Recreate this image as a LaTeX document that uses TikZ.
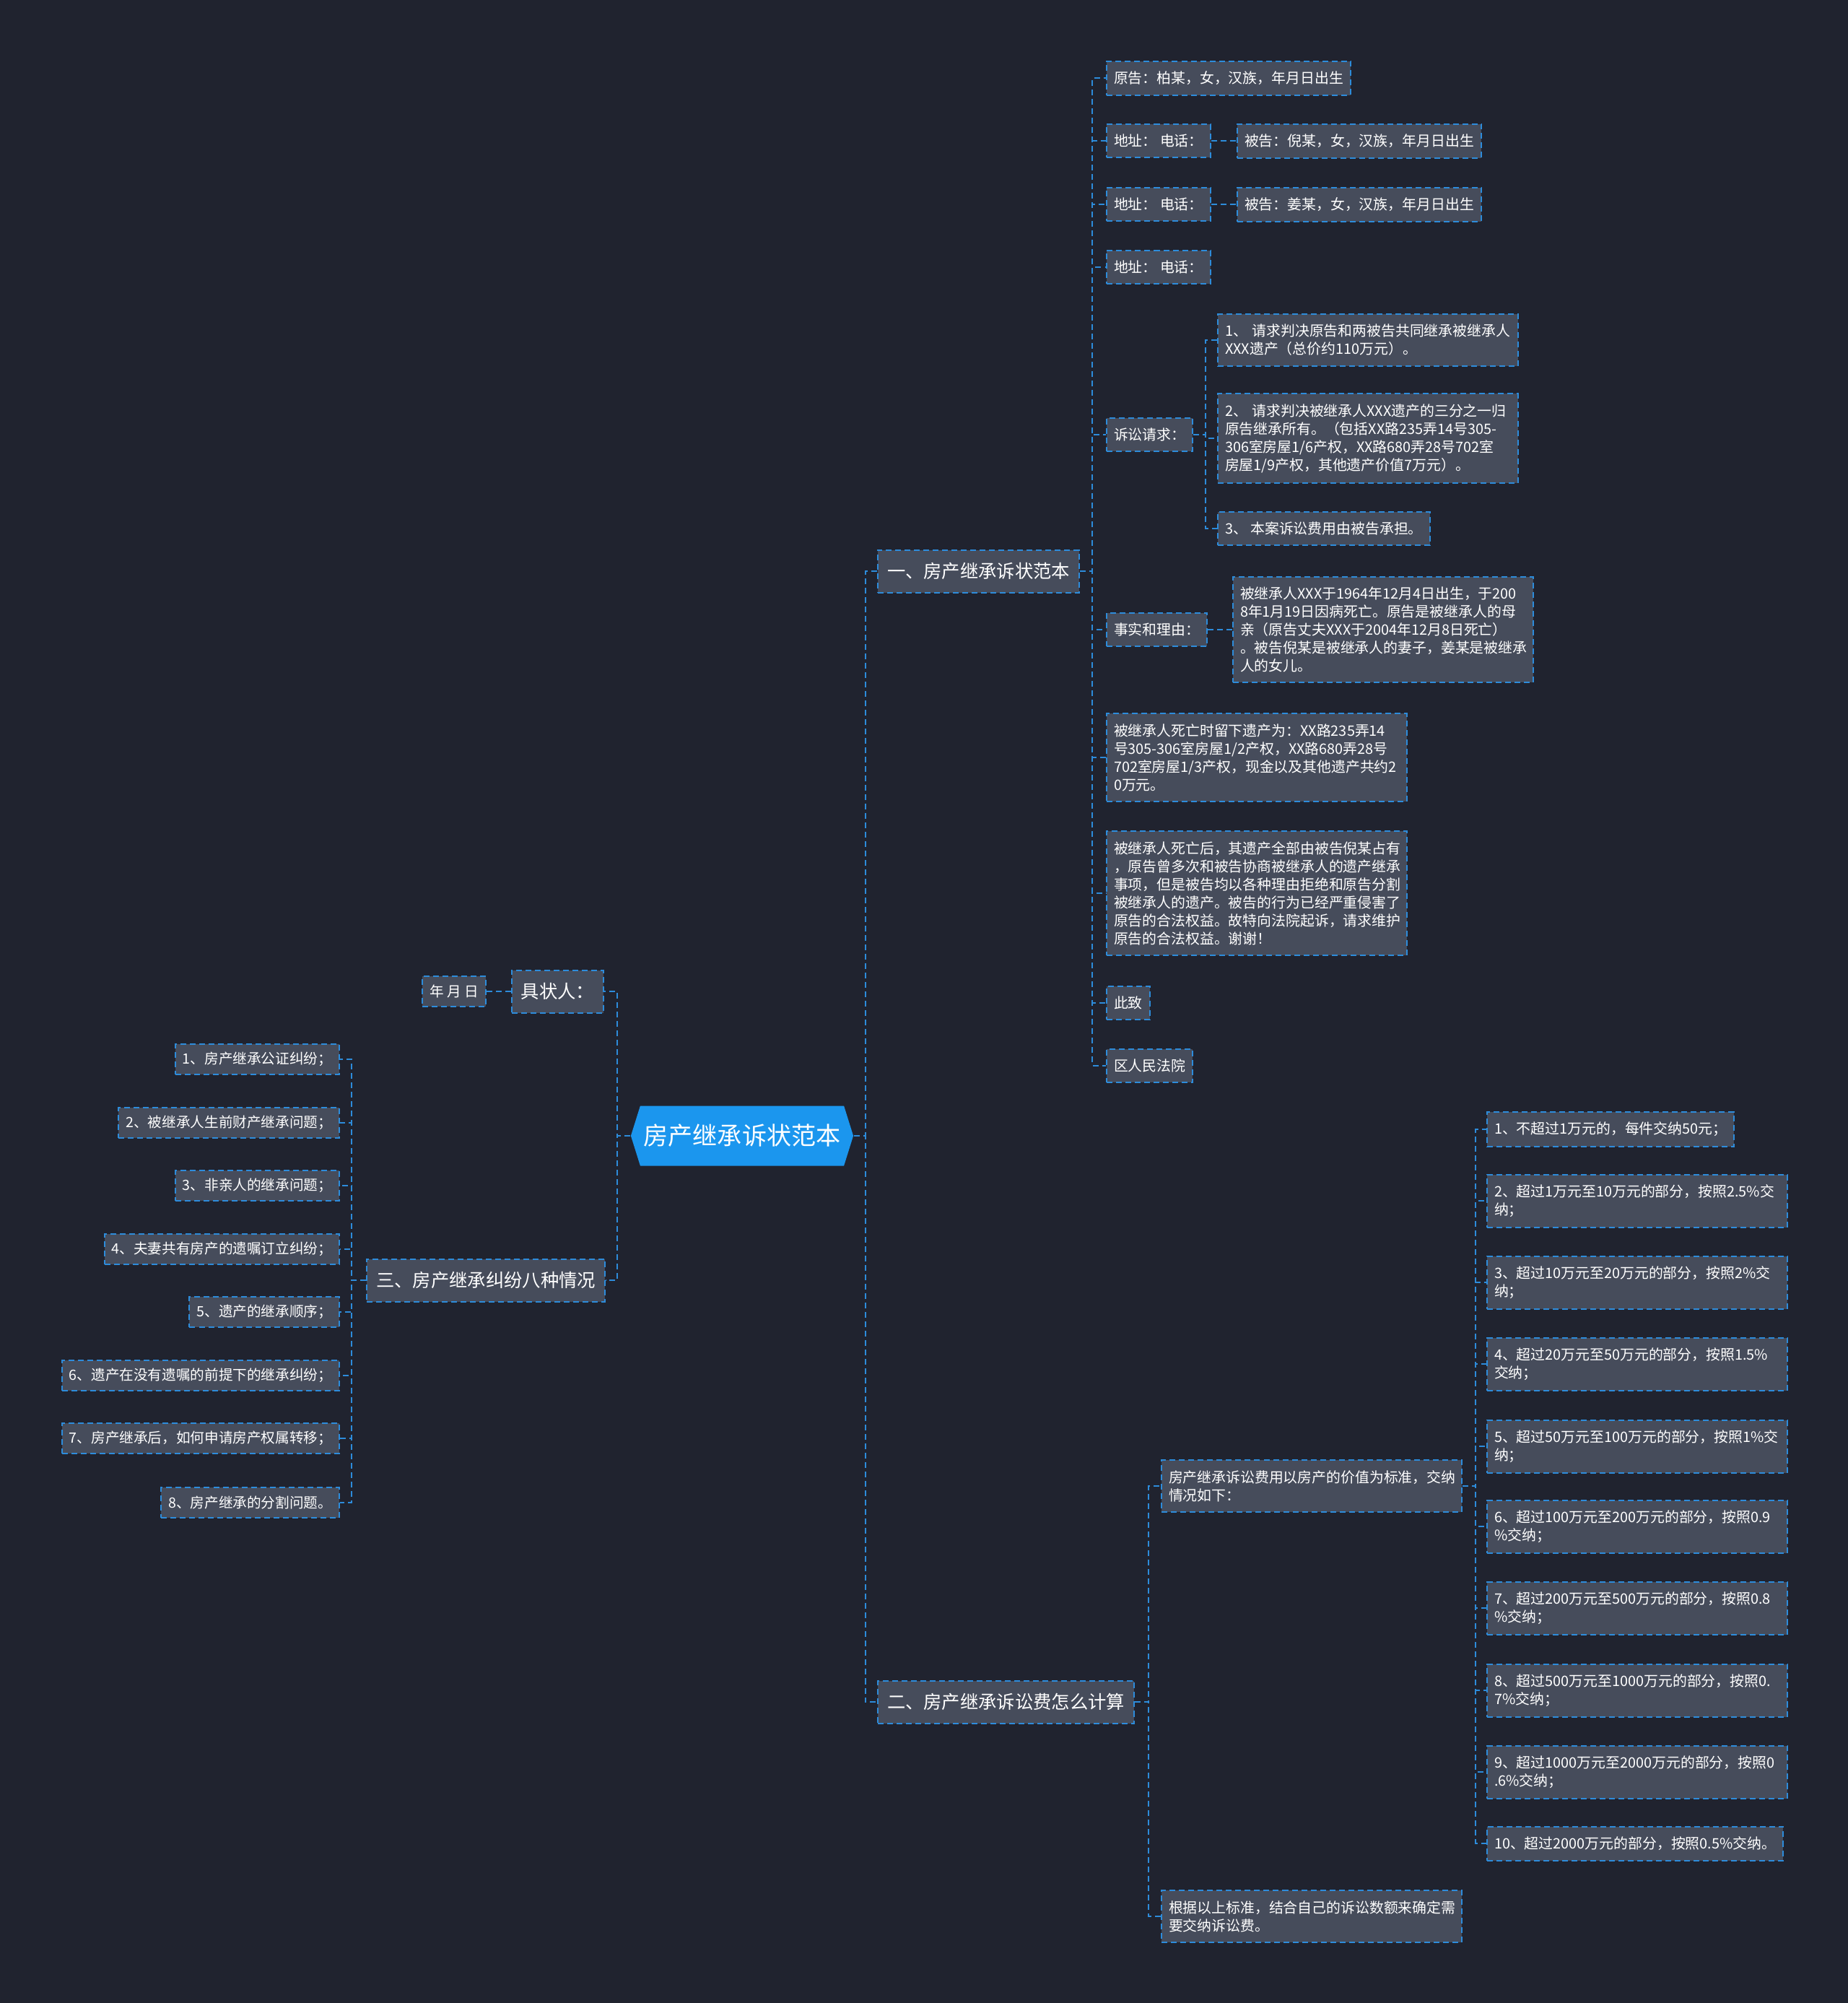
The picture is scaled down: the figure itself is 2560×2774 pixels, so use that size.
\documentclass[tikz,border=0pt]{standalone}
\usepackage{fontspec}
\newfontfamily\cjk{Noto Sans CJK SC}
\definecolor{bgnavy}{HTML}{20232F}
\definecolor{boxgray}{HTML}{464C5B}
\definecolor{linkblue}{HTML}{2D8CDB}
\definecolor{rootblue}{HTML}{1B96EE}

\begin{document}
\begin{tikzpicture}[
  x=0.01cm, y=-0.01cm,
  box/.style={draw=linkblue, dash pattern=on 0.08cm off 0.05cm, line width=0.02cm, fill=boxgray, text=white, align=left, inner xsep=0.1cm, inner ysep=0.14cm, minimum height=0.44cm, font=\cjk\fontsize{5.65}{7.1}\selectfont},
  wide/.style={box, text width=3.96cm},
  sidebox/.style={box, font=\cjk\fontsize{5.58}{6.8}\selectfont, minimum height=0.42cm, inner ysep=0.11cm},
  branch/.style={box, font=\cjk\fontsize{7.2}{8.6}\selectfont, inner xsep=0.13cm, inner ysep=0.1cm, minimum height=0.59cm},
  root/.style={text=white, font=\cjk\fontsize{9.7}{11}\selectfont, minimum width=3.08cm, minimum height=0.83cm, inner sep=0pt,
    path picture={\fill[rootblue] (path picture bounding box.west) -- ([xshift=0.13cm]path picture bounding box.north west) -- ([xshift=-0.13cm]path picture bounding box.north east) -- (path picture bounding box.east) -- ([xshift=-0.13cm]path picture bounding box.south east) -- ([xshift=0.13cm]path picture bounding box.south west) -- cycle;}},
  link/.style={draw=linkblue, dash pattern=on 0.08cm off 0.05cm, line width=0.02cm}
]
\fill[bgnavy] (0,0) rectangle (2560,2774);

% root and main branches
\node[root] (root) at (1028,1573) {房产继承诉状范本};
\node[branch, anchor=west] (b1) at (1215,791) {一、房产继承诉状范本};
\node[branch, anchor=west] (b2) at (1215,2357) {二、房产继承诉讼费怎么计算};
\node[branch, anchor=east] (jzr) at (837,1373) {具状人：};
\node[branch, anchor=east] (b3) at (839,1773) {三、房产继承纠纷八种情况};
\node[sidebox, anchor=east] (ymd) at (674,1373) {年 月 日};

% branch one
\node[box, anchor=west] (plt) at (1532,108) {原告：柏某，女，汉族，年月日出生};
\node[box, anchor=west] (addr1) at (1532,195) {地址： 电话：};
\node[box, anchor=west] (def1) at (1713,195) {被告：倪某，女，汉族，年月日出生};
\node[box, anchor=west] (addr2) at (1532,283) {地址： 电话：};
\node[box, anchor=west] (def2) at (1713,283) {被告：姜某，女，汉族，年月日出生};
\node[box, anchor=west] (addr3) at (1532,370) {地址： 电话：};
\node[box, anchor=west] (req) at (1532,602) {诉讼请求：};
\node[wide, anchor=west] (req1) at (1686,471) {1、 请求判决原告和两被告共同继承被继承人\\XXX遗产（总价约110万元）。};
\node[wide, anchor=west] (req2) at (1686,607) {2、 请求判决被继承人XXX遗产的三分之一归\\原告继承所有。（包括XX路235弄14号305-\\306室房屋1/6产权，XX路680弄28号702室\\房屋1/9产权，其他遗产价值7万元）。};
\node[box, anchor=west] (req3) at (1686,732) {3、 本案诉讼费用由被告承担。};
\node[box, anchor=west] (fact) at (1532,872) {事实和理由：};
\node[wide, anchor=west] (facttxt) at (1707,872) {被继承人XXX于1964年12月4日出生，于200\\8年1月19日因病死亡。原告是被继承人的母\\亲（原告丈夫XXX于2004年12月8日死亡）\\。被告倪某是被继承人的妻子，姜某是被继承\\人的女儿。};
\node[wide, anchor=west] (estate) at (1532,1049) {被继承人死亡时留下遗产为：XX路235弄14\\号305-306室房屋1/2产权，XX路680弄28号\\702室房屋1/3产权，现金以及其他遗产共约2\\0万元。};
\node[wide, anchor=west] (after) at (1532,1237) {被继承人死亡后，其遗产全部由被告倪某占有\\，原告曾多次和被告协商被继承人的遗产继承\\事项，但是被告均以各种理由拒绝和原告分割\\被继承人的遗产。被告的行为已经严重侵害了\\原告的合法权益。故特向法院起诉，请求维护\\原告的合法权益。谢谢！};
\node[box, anchor=west] (cz) at (1532,1389) {此致};
\node[box, anchor=west] (court) at (1532,1476) {区人民法院};

% branch two
\node[wide, anchor=west] (fee) at (1608,2058) {房产继承诉讼费用以房产的价值为标准，交纳\\情况如下：};
\node[wide, anchor=west] (basis) at (1608,2654) {根据以上标准，结合自己的诉讼数额来确定需\\要交纳诉讼费。};
\node[box, anchor=west] (f1) at (2059,1564) {1、不超过1万元的，每件交纳50元；};
\node[wide, anchor=west] (f2) at (2059,1663) {2、超过1万元至10万元的部分，按照2.5\%交\\纳；};
\node[wide, anchor=west] (f3) at (2059,1776) {3、超过10万元至20万元的部分，按照2\%交\\纳；};
\node[wide, anchor=west] (f4) at (2059,1889) {4、超过20万元至50万元的部分，按照1.5\%\\交纳；};
\node[wide, anchor=west] (f5) at (2059,2003) {5、超过50万元至100万元的部分，按照1\%交\\纳；};
\node[wide, anchor=west] (f6) at (2059,2114) {6、超过100万元至200万元的部分，按照0.9\\\%交纳；};
\node[wide, anchor=west] (f7) at (2059,2227) {7、超过200万元至500万元的部分，按照0.8\\\%交纳；};
\node[wide, anchor=west] (f8) at (2059,2341) {8、超过500万元至1000万元的部分，按照0.\\7\%交纳；};
\node[wide, anchor=west] (f9) at (2059,2454) {9、超过1000万元至2000万元的部分，按照0\\.6\%交纳；};
\node[box, anchor=west] (f10) at (2059,2553) {10、超过2000万元的部分，按照0.5\%交纳。};

% branch three
\node[sidebox, anchor=east] (s1) at (471,1467) {1、房产继承公证纠纷；};
\node[sidebox, anchor=east] (s2) at (471,1555) {2、被继承人生前财产继承问题；};
\node[sidebox, anchor=east] (s3) at (471,1642) {3、非亲人的继承问题；};
\node[sidebox, anchor=east] (s4) at (471,1730) {4、夫妻共有房产的遗嘱订立纠纷；};
\node[sidebox, anchor=east] (s5) at (471,1817) {5、遗产的继承顺序；};
\node[sidebox, anchor=east] (s6) at (471,1905) {6、遗产在没有遗嘱的前提下的继承纠纷；};
\node[sidebox, anchor=east] (s7) at (471,1992) {7、房产继承后，如何申请房产权属转移；};
\node[sidebox, anchor=east] (s8) at (471,2081) {8、房产继承的分割问题。};

% connectors
\foreach \c in {b1,b2} \draw[link] (root.east) -- ++(16,0) |- (\c.west);
\foreach \c in {jzr,b3} \draw[link] (root.west) -- ++(-18,0) |- (\c.east);
\draw[link] (jzr.west) -- (ymd.east);
\foreach \c in {plt,addr1,addr2,addr3,req,fact,estate,after,cz,court} \draw[link] (b1.east) -- ++(17,0) |- (\c.west);
\draw[link] (addr1.east) -- (def1.west);
\draw[link] (addr2.east) -- (def2.west);
\foreach \c in {req1,req2,req3} \draw[link] (req.east) -- ++(17,0) |- (\c.west);
\draw[link] (fact.east) -- (facttxt.west);
\foreach \c in {fee,basis} \draw[link] (b2.east) -- ++(19,0) |- (\c.west);
\foreach \c in {f1,f2,f3,f4,f5,f6,f7,f8,f9,f10} \draw[link] (fee.east) -- ++(18,0) |- (\c.west);
\foreach \c in {s1,s2,s3,s4,s5,s6,s7,s8} \draw[link] (b3.west) -- ++(-20,0) |- (\c.east);
\end{tikzpicture}
\end{document}
